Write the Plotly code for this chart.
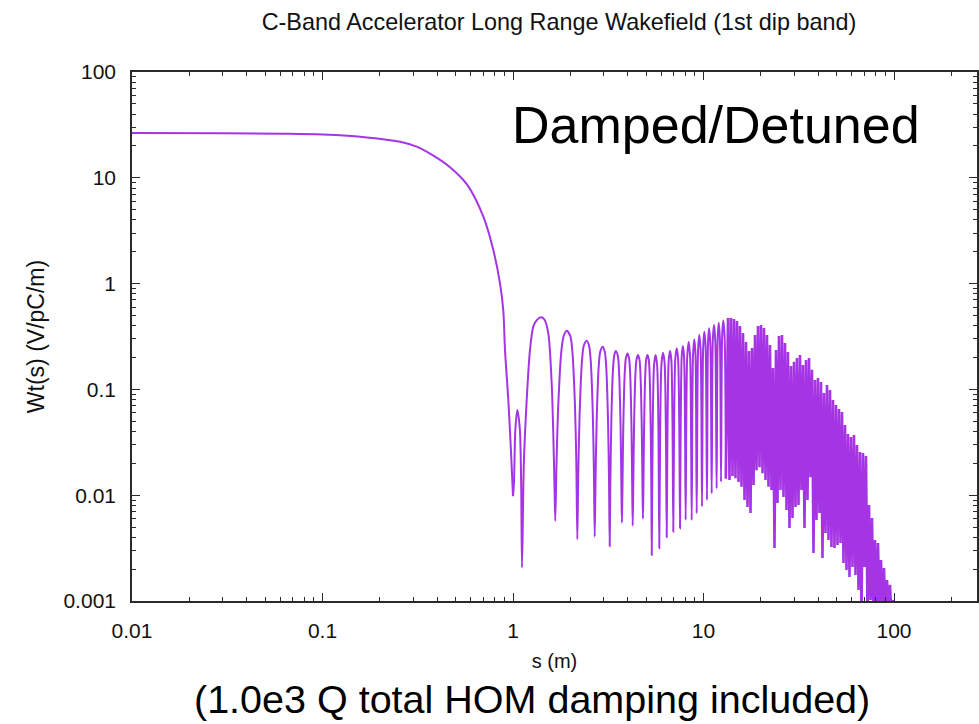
import plotly.graph_objects as go

# ---- data ----
# smooth head of the wake (s in m, Wt in V/pC/m)
head_s = [0.01, 0.03, 0.06, 0.1, 0.171, 0.255, 0.312, 0.382, 0.467, 0.572, 0.699, 0.788, 0.855, 0.889, 0.908, 0.945, 0.976, 1.000]
head_w = [26.5, 26.4, 26.1, 25.6, 24.1, 21.9, 19.7, 16.2, 12.6, 8.7, 4.29, 2.08, 1.0, 0.56, 0.236, 0.079, 0.026, 0.0098]

# resolved lobes between ~1 m and ~13 m
lobe_s = [1.000, 1.0115, 1.029, 1.054, 1.086, 1.1035, 1.115,
          1.14, 1.18, 1.228, 1.278, 1.33, 1.398, 1.46, 1.532, 1.596, 1.627, 1.65, 1.667,
          1.692, 1.728, 1.794, 1.845, 1.913, 1.998, 2.049, 2.115, 2.15, 2.176,
          2.201, 2.237, 2.303, 2.354, 2.437, 2.507, 2.558, 2.624, 2.66, 2.685,
          2.712, 2.749, 2.818, 2.872, 2.957, 3.031, 3.085, 3.154, 3.191, 3.218,
          3.244, 3.279, 3.346, 3.397, 3.46, 3.551, 3.602, 3.669, 3.704, 3.73,
          3.756, 3.792, 3.86, 3.912, 3.99, 4.068, 4.12, 4.188, 4.224, 4.25,
          4.278, 4.317, 4.39, 4.446, 4.53, 4.614, 4.67, 4.743, 4.782, 4.81,
          4.837, 4.875, 4.945, 4.999, 5.08, 5.161, 5.215, 5.285, 5.323, 5.35,
          5.411, 5.503, 5.605, 5.707, 5.799, 5.86,
          5.926, 6.025, 6.135, 6.245, 6.344, 6.41,
          6.474, 6.569, 6.675, 6.781, 6.876, 6.94,
          7.011, 7.117, 7.235, 7.353, 7.459, 7.53,
          7.594, 7.689, 7.795, 7.901, 7.996, 8.06,
          8.21, 8.36, 8.51, 8.67,
          8.81, 8.95, 9.08, 9.21,
          9.36, 9.5, 9.66, 9.82,
          9.96, 10.1, 10.26, 10.43,
          10.56, 10.69, 10.86, 11.04,
          11.19, 11.35, 11.53, 11.72,
          11.87, 12.02, 12.19, 12.36,
          12.53, 12.7, 12.9, 13.1]
lobe_w = [0.0098, 0.013, 0.042, 0.064, 0.042, 0.013, 0.00207,
          0.02, 0.079, 0.236, 0.392, 0.45, 0.48, 0.46, 0.339, 0.114, 0.0385, 0.013, 0.0057,
          0.02, 0.07, 0.23, 0.32, 0.359, 0.32, 0.23, 0.07, 0.02, 0.00383,
          0.016, 0.058, 0.188, 0.26, 0.289, 0.26, 0.188, 0.058, 0.016, 0.00405,
          0.014, 0.05, 0.165, 0.228, 0.2535, 0.228, 0.165, 0.05, 0.014, 0.0033,
          0.013, 0.046, 0.15, 0.208, 0.231, 0.208, 0.15, 0.046, 0.013, 0.0055,
          0.012, 0.044, 0.142, 0.197, 0.219, 0.197, 0.142, 0.044, 0.012, 0.00515,
          0.012, 0.042, 0.137, 0.19, 0.211, 0.19, 0.137, 0.042, 0.012, 0.006,
          0.012, 0.042, 0.137, 0.19, 0.211, 0.19, 0.137, 0.042, 0.012, 0.00272,
          0.042, 0.17, 0.211, 0.17, 0.042, 0.00315,
          0.044, 0.18, 0.222, 0.18, 0.044, 0.004,
          0.046, 0.188, 0.232, 0.188, 0.046, 0.00452,
          0.049, 0.198, 0.2445, 0.198, 0.049, 0.00486,
          0.051, 0.208, 0.257, 0.208, 0.051, 0.00583,
          0.2, 0.28, 0.2, 0.0058,
          0.21, 0.297, 0.21, 0.00674,
          0.23, 0.327, 0.23, 0.0078,
          0.25, 0.351, 0.25, 0.009,
          0.27, 0.378, 0.27, 0.0104,
          0.29, 0.406, 0.29, 0.0116,
          0.3, 0.427, 0.3, 0.0134,
          0.32, 0.447, 0.32, 0.0144]

# dense (unresolved) oscillation region: crests and troughs
crest_s = [13.45, 13.94, 14.46, 14.99, 15.54, 16.12, 16.72, 17.34, 17.98, 18.64,
           19.33, 20.04, 20.78, 21.54, 22.34, 23.16, 24.02, 24.90, 25.82, 26.78,
           27.76, 28.79, 29.85, 30.95, 32.10, 33.28, 34.51, 35.79, 37.11, 38.48,
           39.90, 41.38, 42.90, 44.49, 46.13, 47.83, 49.60, 51.43, 53.33, 55.30,
           57.34, 59.46, 61.66, 63.93, 66.30, 68.75, 71.29, 73.92, 76.65, 79.48,
           82.42, 85.46, 88.62, 91.90, 95.29, 98.80]
crest_w = [0.473, 0.473, 0.463, 0.443, 0.397, 0.341, 0.281, 0.231, 0.246, 0.327,
           0.397, 0.406, 0.380, 0.327, 0.263, 0.159, 0.236, 0.320, 0.327, 0.275,
           0.226, 0.166, 0.182, 0.198, 0.211, 0.170, 0.190, 0.198, 0.153, 0.123,
           0.128, 0.1175, 0.0925, 0.110, 0.0988, 0.0794, 0.0712, 0.0653, 0.0611, 0.0461,
           0.0379, 0.0355, 0.0371, 0.0298, 0.0256, 0.0251, 0.0235, 0.00808, 0.00609, 0.00377,
           0.00353, 0.00244, 0.00205, 0.00158, 0.00142, 0.00102]
trough_s = [13.69, 14.20, 14.72, 15.27, 15.83, 16.42, 17.02, 17.65, 18.31, 18.98,
            19.68, 20.41, 21.16, 21.94, 22.75, 23.59, 24.46, 25.36, 26.30, 27.27,
            28.27, 29.31, 30.40, 31.52, 32.68, 33.89, 35.14, 36.44, 37.79, 39.19,
            40.63, 42.13, 43.69, 45.30, 46.97, 48.71, 50.51, 52.37, 54.31, 56.31,
            58.39, 60.55, 62.78, 65.10, 67.51, 70.00, 72.59, 75.27, 78.05, 80.94,
            83.93, 87.03, 90.25, 93.58, 97.03, 100.6]
trough_w = [0.0139, 0.0152, 0.0145, 0.0133, 0.0120, 0.0090, 0.00774, 0.00679, 0.0125, 0.0172,
            0.0184, 0.0161, 0.0139, 0.0120, 0.0112, 0.00317, 0.00844, 0.0112, 0.00961, 0.00725,
            0.0049, 0.00609, 0.00774, 0.00808, 0.0112, 0.0049, 0.0090, 0.0148, 0.00284, 0.00583,
            0.00679, 0.00255, 0.00439, 0.00377, 0.00324, 0.00317, 0.00338, 0.00353, 0.00229, 0.00196,
            0.00169, 0.0021, 0.00176, 0.00127, 0.0007, 0.0021, 0.0007, 0.00102, 0.0007, 0.0007,
            0.0007, 0.0007, 0.0007, 0.0007, 0.0007, 0.0006]

x_tick_vals = [0.01, 0.1, 1, 10, 100]
x_tick_text = ["0.01", "0.1", "1", "10", "100"]
y_tick_vals = [0.001, 0.01, 0.1, 1, 10, 100]
y_tick_text = ["0.001", "0.01", "0.1", "1", "10", "100"]

# ---- assemble the dense part as one alternating polyline ----
dense_s = [lobe_s[-1]]
dense_w = [lobe_w[-1]]
for cs, cw, ts, tw in zip(crest_s, crest_w, trough_s, trough_w):
    dense_s += [cs, ts]
    dense_w += [cw, tw]

FONT = "Liberation Sans, Arial, Helvetica, sans-serif"
LINE = "#2a2a2a"
PURPLE = "#a535e4"

fig = go.Figure()
fig.add_trace(go.Scatter(x=head_s, y=head_w, mode="lines", line_shape="spline",
                         line=dict(color=PURPLE, width=2, smoothing=1.0), showlegend=False))
fig.add_trace(go.Scatter(x=lobe_s, y=lobe_w, mode="lines", line_shape="spline",
                         line=dict(color=PURPLE, width=2, smoothing=0.8), showlegend=False))
fig.add_trace(go.Scatter(x=dense_s, y=dense_w, mode="lines",
                         line=dict(color=PURPLE, width=2.6), showlegend=False))

axis_common = dict(
    showline=True, linecolor=LINE, linewidth=1.6, mirror="ticks",
    ticks="inside", ticklen=8, tickwidth=1.2, tickcolor=LINE,
    showgrid=False, zeroline=False, automargin=False,
    tickfont=dict(family=FONT, size=21, color="#111"),
    minor=dict(ticks="inside", ticklen=4, tickwidth=1, tickcolor=LINE,
               showgrid=False, dtick="D1"),
)

fig.update_xaxes(type="log", range=[-2, 2.4357], tickvals=x_tick_vals, ticktext=x_tick_text,
                 title=dict(text="s (m)", font=dict(family=FONT, size=20, color="#111"), standoff=13),
                 ticklabelstandoff=10, **axis_common)
fig.update_yaxes(type="log", range=[-3, 2], tickvals=y_tick_vals, ticktext=y_tick_text,
                 title=dict(text="Wt(s) (V/pC/m)", font=dict(family=FONT, size=23, color="#111"), standoff=12),
                 ticklabelstandoff=10, **axis_common)

fig.update_layout(
    width=979, height=724,
    margin=dict(l=132, r=2, t=72, b=123, autoexpand=False),
    paper_bgcolor="white", plot_bgcolor="white",
    title=dict(text="C-Band Accelerator Long Range Wakefield (1st dip band)",
               x=559 / 979, xref="container", xanchor="center",
               y=1 - 22 / 724, yref="container", yanchor="middle", automargin=False,
               font=dict(family=FONT, size=23.4, color="#111")),
    annotations=[
        dict(text="Damped/Detuned", xref="paper", yref="paper", x=0.691, y=0.8998,
             xanchor="center", yanchor="middle", showarrow=False,
             font=dict(family=FONT, size=52, color="#000")),
        dict(text="(1.0e3 Q total HOM damping included)", xref="paper", yref="paper",
             x=0.4734, y=-0.186, xanchor="center", yanchor="middle", showarrow=False,
             font=dict(family=FONT, size=39.5, color="#000")),
    ],
)

fig.write_html("out.html", config={"displayModeBar": False},
               post_script="document.body.style.margin='0px';document.body.style.overflow='hidden';")
